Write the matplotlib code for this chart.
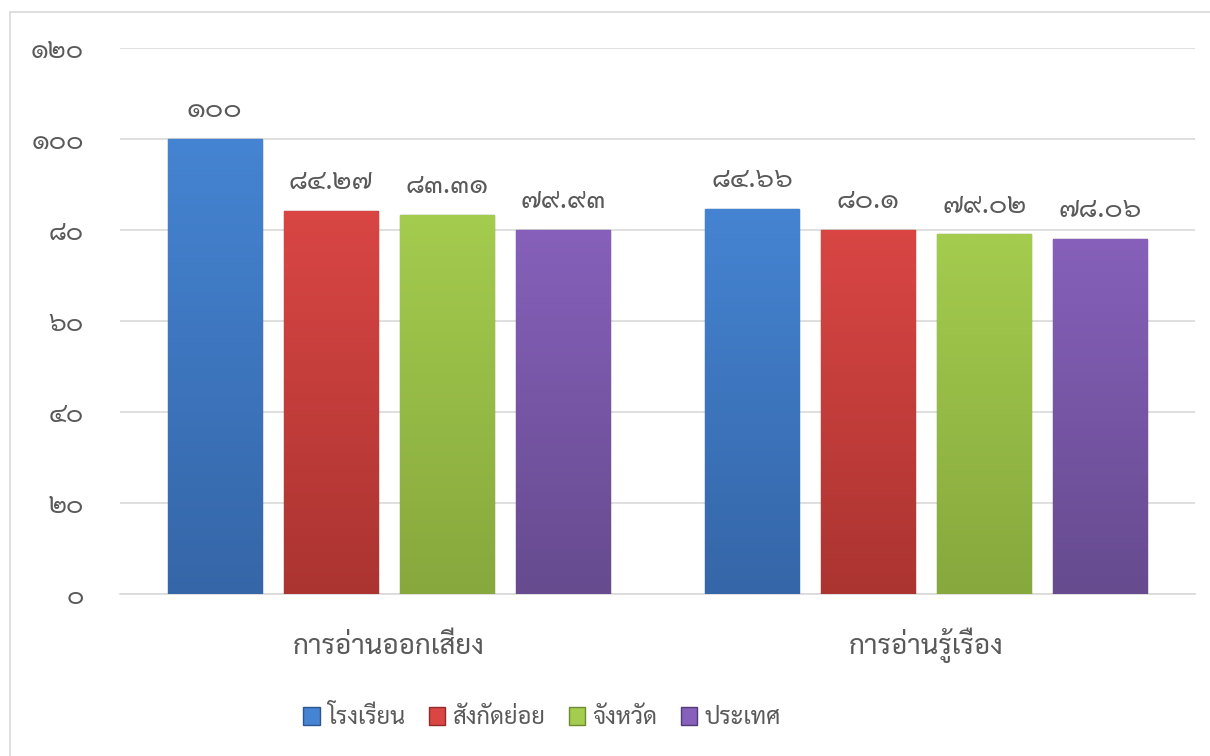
import matplotlib
matplotlib.use("Agg")
import matplotlib.pyplot as plt
import numpy as np
from matplotlib.colors import LinearSegmentedColormap
from matplotlib.patches import Rectangle

plt.rcParams['font.family'] = ['Sarabun', 'DejaVu Sans']

categories = ['การอ่านออกเสียง', 'การอ่านรู้เรื่อง']
series = ['โรงเรียน', 'สังกัดย่อย', 'จังหวัด', 'ประเทศ']
school = [100, 84.66]
district = [84.27, 80.1]
province = [83.31, 79.02]
country = [79.93, 78.06]
values = [school, district, province, country]
label_texts = [['๑๐๐', '๘๔.๖๖'], ['๘๔.๒๗', '๘๐.๑'], ['๘๓.๓๑', '๗๙.๐๒'], ['๗๙.๙๓', '๗๘.๐๖']]
yticks = [0, 20, 40, 60, 80, 100, 120]
ytick_labels = ['๐', '๒๐', '๔๐', '๖๐', '๘๐', '๑๐๐', '๑๒๐']

# (top, bottom, edge) colours for the bevelled bars
palette = [('#4584d2', '#3566a8', '#2c5690'),
           ('#d94644', '#ab3431', '#8f2b28'),
           ('#a4cc4e', '#87a83d', '#6f8a30'),
           ('#8660ba', '#664b8f', '#523c75')]

text_gray = '#595959'

fig = plt.figure(figsize=(12.1, 7.56), dpi=100)
fig.patches.append(Rectangle((10 / 1210, -0.01), 1.1, 1 - 12 / 756 + 0.01,
                             transform=fig.transFigure, fill=False,
                             edgecolor='#d9d9d9', linewidth=1.2))
ax = fig.add_axes([120 / 1210, 1 - 594 / 756, 1075 / 1210, 546 / 756])

x = np.arange(len(categories))
step = 0.216
width = 0.175
offsets = (np.arange(len(series)) - 1.5) * step

handles = []
for i, name in enumerate(series):
    top, bottom, edge = palette[i]
    cmap = LinearSegmentedColormap.from_list('g%d' % i, [bottom, top])
    bars = ax.bar(x + offsets[i], values[i], width, color=top, edgecolor=edge,
                  linewidth=1.0, zorder=3, label=name)
    for b, lab in zip(bars, label_texts[i]):
        bx, by = b.get_x(), b.get_y()
        bw, bh = b.get_width(), b.get_height()
        grad = np.linspace(0, 1, 256).reshape(-1, 1)
        im = ax.imshow(grad, cmap=cmap, origin='lower', aspect='auto',
                       extent=(bx, bx + bw, by, by + bh), zorder=3.5)
        im.set_clip_path(b)
        ax.text(bx + bw / 2, by + bh + 4.8, lab, ha='center', va='baseline',
                fontsize=20, color=text_gray, zorder=5)
    handles.append(bars)

ax.set_xlim(-0.5, 1.5)
ax.set_ylim(0, 120)
ax.set_yticks(yticks)
ax.set_yticklabels(ytick_labels, fontsize=19, color=text_gray)
ax.set_xticks(x)
ax.set_xticklabels(categories, fontsize=20, color=text_gray)
ax.tick_params(axis='y', length=0, pad=26)
ax.tick_params(axis='x', length=0, pad=43)
for lab in ax.get_yticklabels():
    lab.set_horizontalalignment('right')
    lab.set_verticalalignment('center_baseline')
for lab in ax.get_xticklabels():
    lab.set_verticalalignment('baseline')
ax.grid(axis='y', color='#d9d9d9', linewidth=1.2, zorder=0)
for s in ['top', 'right', 'left']:
    ax.spines[s].set_visible(False)
ax.spines['bottom'].set_color('#d9d9d9')
ax.spines['bottom'].set_linewidth(1.2)
ax.set_axisbelow(True)

leg = fig.legend(handles=handles, labels=series, loc='center',
                 bbox_to_anchor=(542 / 1210, 1 - 717 / 756), ncol=4, frameon=False,
                 fontsize=17, handlelength=0.7, handleheight=0.8,
                 handletextpad=0.3, columnspacing=1.0)
for t in leg.get_texts():
    t.set_color(text_gray)

fig.savefig('out.png', dpi=100)
